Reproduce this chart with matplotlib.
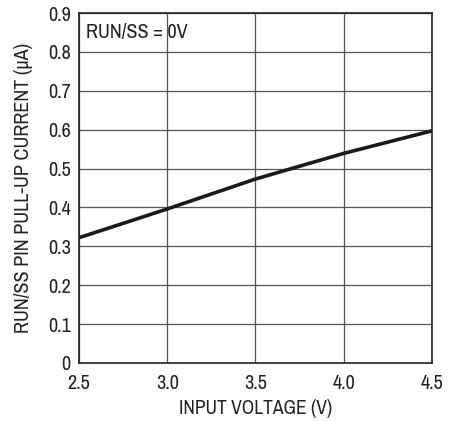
import matplotlib
matplotlib.use("Agg")
import matplotlib.pyplot as plt

# values
vin = [2.5, 3.0, 3.5, 4.0, 4.5]
i_pullup = [0.322, 0.396, 0.473, 0.539, 0.597]

x_ticks = [2.5, 3.0, 3.5, 4.0, 4.5]
x_labels = ["2.5", "3.0", "3.5", "4.0", "4.5"]
y_ticks = [0, 0.1, 0.2, 0.3, 0.4, 0.5, 0.6, 0.7, 0.8, 0.9]
y_labels = ["0", "0.1", "0.2", "0.3", "0.4", "0.5", "0.6", "0.7", "0.8", "0.9"]

# condensed face close to the datasheet font, DejaVu as fallback
plt.rcParams["font.family"] = ["Archivo Narrow", "DejaVu Sans"]

fig = plt.figure(figsize=(4.62, 4.21), dpi=100)
ax = fig.add_axes([0.171, 0.138, 0.764, 0.831])

ax.plot(vin, i_pullup, color="#1a1a1a", lw=2.6, solid_capstyle="butt", zorder=3)

ax.set_xlim(2.5, 4.5)
ax.set_ylim(0, 0.9)
ax.set_xticks(x_ticks)
ax.set_xticklabels(x_labels)
ax.set_yticks(y_ticks)
ax.set_yticklabels(y_labels)
ax.tick_params(length=0, labelsize=14.5, colors="#222222")
ax.tick_params(axis="y", pad=6)
ax.tick_params(axis="x", pad=8)

ax.grid(True, color="#555555", lw=0.9, zorder=1)
for s in ax.spines.values():
    s.set_linewidth(1.2)
    s.set_color("#222222")

ax.set_xlabel("INPUT VOLTAGE (V)", fontsize=14, color="#222222", labelpad=4)
ax.set_ylabel("RUN/SS PIN PULL-UP CURRENT (\u03bcA)", fontsize=14.5,
              color="#222222", labelpad=11)

ax.text(0.02, 0.972, "RUN/SS = 0V", transform=ax.transAxes, fontsize=14.5,
        color="#222222", va="top", ha="left")

fig.savefig("out.png", dpi=100)
